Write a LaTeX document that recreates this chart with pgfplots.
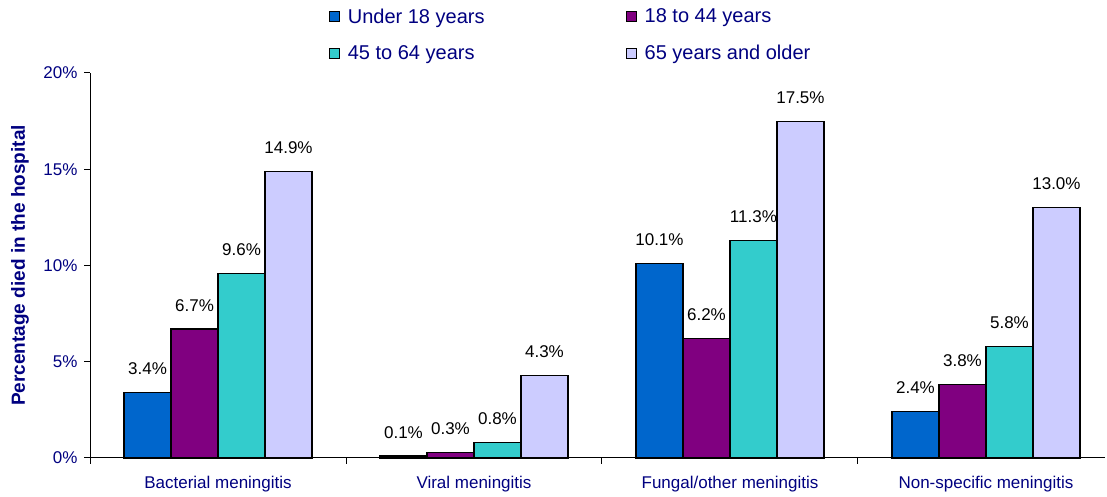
\documentclass[border=0pt]{standalone}
\usepackage{fontspec}
\setmainfont{Liberation Sans}
\usepackage{pgfplots}
\pgfplotsset{compat=1.18}
\definecolor{cBlue}{HTML}{0066CC}
\definecolor{cPurple}{HTML}{800080}
\definecolor{cTeal}{HTML}{33CCCC}
\definecolor{cLav}{HTML}{CCCCFF}
\definecolor{navyT}{HTML}{000080}

% per-series data (x = category index 0..3)
\pgfplotstableread{
x  under  a18  a45  a65
0  3.4    6.7  9.6  14.9
1  0.1    0.3  0.8  4.3
2  10.1   6.2  11.3 17.5
3  2.4    3.8  5.8  13.0
}\deaths

\begin{document}
\begin{tikzpicture}
\begin{axis}[
  name=ax,
  scale only axis, width=1015pt, height=385pt,
  ybar=0pt, bar width=47pt,
  xmin=-0.5, xmax=3.465, ymin=0, ymax=20,
  axis lines=left, axis line style={-, black, line width=1pt},
  tick align=outside, major tick length=6pt,
  tick style={black, line width=1pt},
  xtick={-0.5,0.5,1.5,2.5}, xticklabels={},
  extra x ticks={0,1,2,3},
  extra x tick labels={Bacterial meningitis, Viral meningitis, Fungal/other meningitis, Non-specific meningitis},
  extra x tick style={major tick length=0pt},
  xticklabel style={font=\fontsize{17}{20}\selectfont, text=navyT, yshift=-15pt},
  ytick={0,5,10,15,20},
  yticklabel={\pgfmathprintnumber{\tick}\%},
  yticklabel style={font=\fontsize{17}{20}\selectfont, text=navyT, xshift=-3pt},
  /pgf/number format/assume math mode=true,
  ylabel={Percentage died in the hospital},
  ylabel style={at={(axis description cs:-0.0689,0.5)}, anchor=center,
    font=\bfseries\fontsize{19}{22}\selectfont, text=navyT},
  nodes near coords={\pgfmathprintnumber[fixed,fixed zerofill,precision=1]{\pgfplotspointmeta}\%},
  every node near coord/.append style={anchor=base, yshift=18pt,
    font=\fontsize{17}{20}\selectfont, text=black},
  every axis plot/.append style={draw=black, line width=1.2pt,
    legend image code/.code={\draw[##1, line width=1pt] (0pt,-5pt) rectangle (10pt,5pt); \path (16pt,0pt);}},
  legend columns=2,
  legend style={at={(rel axis cs:0.235,1.173)}, anchor=north west,
    draw=none, fill=none, inner sep=0pt,
    font=\fontsize{20}{24}\selectfont, text=navyT,
    /tikz/every even column/.append style={column sep=139pt},
    row sep=16.5pt},
  legend cell align=left,
  clip=false,
]
\addplot[fill=cBlue]   table[x=x, y=under] {\deaths};
\addplot[fill=cPurple] table[x=x, y=a18]   {\deaths};
\addplot[fill=cTeal]   table[x=x, y=a45]   {\deaths};
\addplot[fill=cLav]    table[x=x, y=a65]   {\deaths};
\legend{Under 18 years, 18 to 44 years, 45 to 64 years, 65 years and older}
\coordinate (bl) at (rel axis cs:-0.0887,-0.1013);
\coordinate (tr) at (rel axis cs:1.0020,1.1896);
\end{axis}
\pgfresetboundingbox
\path[use as bounding box] (bl) rectangle (tr);
\end{tikzpicture}
\end{document}
